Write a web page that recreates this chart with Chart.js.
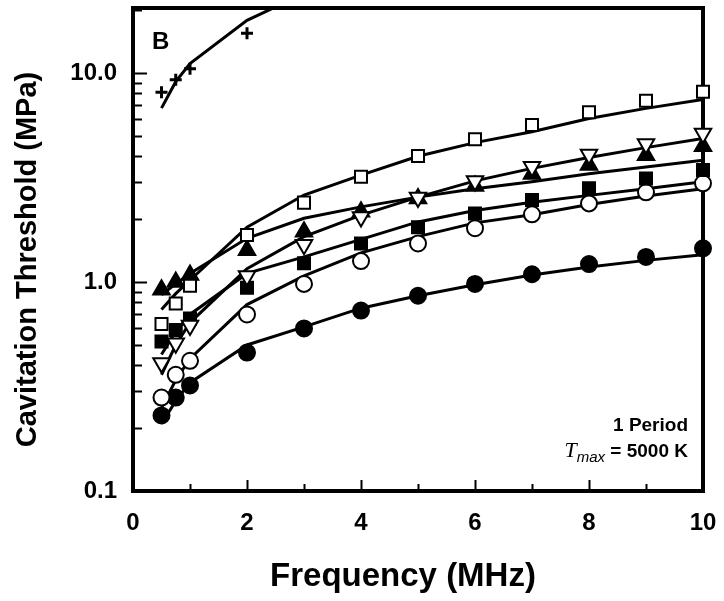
<!DOCTYPE html>
<html>
<head>
<meta charset="utf-8">
<script src="https://cdn.jsdelivr.net/npm/chart.js@4.4.1/dist/chart.umd.min.js"></script>
<style>
  html, body { margin: 0; padding: 0; background: #fff; }
</style>
</head>
<body>
<canvas id="chart" width="724" height="601"></canvas>
<script>
//Frequencies (MHz) used by every series
const freq = [0.5, 0.75, 1, 2, 3, 4, 5, 6, 7, 8, 9, 10];

//Crosses only go up to 2 MHz, fit runs off the top
const crossFreq = [0.5, 0.75, 1, 2];
const crossPts = [8.1, 9.3, 10.5, 15.5];
const crossFitFreq = [0.5, 0.75, 1, 2, 3];
const crossFit = [6.8, 9.1, 11.1, 17.9, 24];

//Threshold values (MPa), markers and fitted curves
const openSquare = [0.63, 0.79, 0.96, 1.68, 2.4, 3.19, 4.01, 4.82, 5.64, 6.49, 7.37, 8.14];
const openSquareFit = [0.74, 0.88, 1.02, 1.83, 2.61, 3.25, 4.0, 4.65, 5.24, 6.07, 6.78, 7.48];
const downTri = [0.41, 0.51, 0.62, 1.07, 1.51, 2.05, 2.54, 3.05, 3.56, 4.08, 4.58, 5.14];
const downTriFit = [0.36, 0.5, 0.64, 1.16, 1.65, 2.09, 2.55, 3.05, 3.5, 3.95, 4.4, 4.87];
const upTri = [0.92, 1.0, 1.08, 1.42, 1.74, 2.17, 2.51, 2.88, 3.29, 3.63, 4.05, 4.47];
const upTriFit = [0.87, 0.98, 1.1, 1.62, 2.02, 2.29, 2.55, 2.8, 3.02, 3.3, 3.55, 3.83];
const filledSquare = [0.52, 0.59, 0.67, 0.94, 1.23, 1.53, 1.83, 2.13, 2.47, 2.81, 3.13, 3.44];
const filledSquareFit = [0.45, 0.58, 0.7, 1.1, 1.32, 1.6, 1.94, 2.2, 2.41, 2.6, 2.8, 3.02];
const openCircle = [0.28, 0.36, 0.42, 0.70, 0.98, 1.26, 1.53, 1.81, 2.11, 2.38, 2.69, 2.97];
const openCircleFit = [0.25, 0.34, 0.43, 0.78, 1.07, 1.38, 1.65, 1.92, 2.1, 2.35, 2.58, 2.8];
const filledCircle = [0.23, 0.28, 0.32, 0.46, 0.60, 0.73, 0.86, 0.98, 1.09, 1.22, 1.32, 1.45];
const filledCircleFit = [0.21, 0.27, 0.33, 0.50, 0.61, 0.75, 0.86, 0.97, 1.08, 1.18, 1.27, 1.35];

//Axis ticks
const yLabels = [0.1, 1, 10];
const yMinor = [0.2, 0.3, 0.4, 0.5, 0.6, 0.7, 0.8, 0.9, 2, 3, 4, 5, 6, 7, 8, 9, 20];
const xLabels = [0, 2, 4, 6, 8, 10];
const xMinor = [1, 3, 5, 7, 9];

const FONT = "'Liberation Sans', Arial, sans-serif";

function pts(xs, ys){
    return xs.map((x, i) => ({x: x, y: ys[i]}));
}

//Marker dataset
function markers(ys, style, filled, r, extra){
    return Object.assign({
        data: pts(freq, ys),
        showLine: false,
        pointStyle: style,
        pointRadius: r,
        pointBorderWidth: 2,
        pointBorderColor: "#000000",
        pointBackgroundColor: filled ? "#000000" : "#ffffff",
        clip: false,
        order: 1,
    }, extra || {});
}

//Fitted curve dataset
function fitLine(xs, ys){
    return {
        data: pts(xs, ys),
        borderColor: "#000000",
        borderWidth: 3,
        pointRadius: 0,
        fill: false,
        tension: 0,
        order: 2,
    };
}

//No extra room for half tick labels, the frame is fixed by the padding
function noPad(s){
    s.paddingTop = 0;
    s.paddingBottom = 0;
    s.paddingLeft = 0;
    s.paddingRight = 0;
}

//Frame, inside ticks and the text around the plot
const frame = {
    id: "frame",
    beforeDatasetsDraw(chart){
        let ctx = chart.ctx, a = chart.chartArea,
            xs = chart.scales.x, ys = chart.scales.y;
        ctx.save();
        ctx.strokeStyle = "#000000";
        ctx.lineWidth = 2;
        ctx.beginPath();
        yLabels.concat(yMinor).forEach(v => {
            let py = Math.round(ys.getPixelForValue(v)) + 0.5,
                len = yLabels.includes(v) ? 14 : 9;
            if(py < a.top || py > a.bottom) return;
            ctx.moveTo(a.left, py);
            ctx.lineTo(a.left + len, py);
        });
        xLabels.concat(xMinor).forEach(v => {
            let px = Math.round(xs.getPixelForValue(v)) + 0.5,
                len = xLabels.includes(v) ? 11 : 7;
            ctx.moveTo(px, a.bottom);
            ctx.lineTo(px, a.bottom - len);
        });
        ctx.stroke();
        ctx.lineWidth = 4;
        ctx.strokeRect(a.left, a.top, a.right - a.left, a.bottom - a.top);
        ctx.restore();
    },
    afterDraw(chart){
        let ctx = chart.ctx, a = chart.chartArea,
            midX = (a.left + a.right) / 2,
            midY = (a.top + a.bottom) / 2;
        ctx.save();
        ctx.fillStyle = "#000000";

        //Axis titles, sitting a bit off centre as in the original
        ctx.textAlign = "center";
        ctx.textBaseline = "middle";
        ctx.font = "bold 33px " + FONT;
        ctx.fillText("Frequency (MHz)", midX - 15, a.bottom + 86);
        ctx.save();
        ctx.translate(28, midY + 10);
        ctx.rotate(-Math.PI / 2);
        ctx.font = "bold 29px " + FONT;
        ctx.fillText("Cavitation Threshold (MPa)", 0, 0);
        ctx.restore();

        ctx.textBaseline = "alphabetic";
        ctx.font = "bold 24px " + FONT;
        ctx.textAlign = "left";
        ctx.fillText("B", a.left + 19, a.top + 41);

        ctx.font = "bold 19px " + FONT;
        ctx.textAlign = "right";
        ctx.fillText("1 Period", a.right - 15, a.bottom - 60);

        //T_max = 5000 K, built right to left
        let base = a.bottom - 34,
            right = a.right - 15,
            rest = " = 5000 K";
        ctx.font = "bold 19px " + FONT;
        let wRest = ctx.measureText(rest).width;
        ctx.font = "italic 15px " + FONT;
        let wSub = ctx.measureText("max").width;
        ctx.font = "italic 22px 'Liberation Serif', 'Times New Roman', serif";
        let wT = ctx.measureText("T").width;
        let x0 = right - wRest - wSub - wT;
        ctx.textAlign = "left";
        ctx.fillText("T", x0, base);
        ctx.font = "italic 15px " + FONT;
        ctx.fillText("max", x0 + wT, base + 5);
        ctx.font = "bold 19px " + FONT;
        ctx.fillText(rest, x0 + wT + wSub, base);
        ctx.restore();
    },
};

new Chart(document.getElementById("chart"), {
    type: "line",
    data: {
        datasets: [
            fitLine(crossFitFreq, crossFit),
            fitLine(freq, openSquareFit),
            fitLine(freq, downTriFit),
            fitLine(freq, upTriFit),
            fitLine(freq, filledSquareFit),
            fitLine(freq, openCircleFit),
            fitLine(freq, filledCircleFit),
            {
                data: pts(crossFreq, crossPts),
                showLine: false,
                pointStyle: "cross",
                pointRadius: 6,
                pointBorderWidth: 3,
                pointBorderColor: "#000000",
                clip: false,
                order: 1,
            },
            markers(openSquare, "rect", false, 8.5),
            markers(downTri, "triangle", false, 9.5, {pointRotation: 180}),
            markers(upTri, "triangle", true, 9.5),
            markers(filledSquare, "rect", true, 8.5),
            markers(openCircle, "circle", false, 8),
            markers(filledCircle, "circle", true, 8),
        ],
    },
    options: {
        responsive: false,
        animation: false,
        devicePixelRatio: 1,
        layout: {
            autoPadding: false,
            padding: {top: 8, right: 21, left: 0, bottom: 0},
        },
        plugins: {
            legend: {display: false},
            tooltip: {enabled: false},
        },
        scales: {
            x: {
                type: "linear",
                min: 0,
                max: 10,
                grid: {display: false, drawTicks: false},
                border: {display: false},
                afterBuildTicks: s => { s.ticks = xLabels.map(v => ({value: v})); },
                ticks: {
                    padding: 18,
                    color: "#000000",
                    font: {family: FONT, size: 24, weight: "bold"},
                    maxRotation: 0,
                },
                afterFit: s => { s.height = 110; noPad(s); },
            },
            y: {
                type: "logarithmic",
                min: 0.1,
                max: 20.5,
                grid: {display: false, drawTicks: false},
                border: {display: false},
                afterBuildTicks: s => { s.ticks = yLabels.map(v => ({value: v})); },
                ticks: {
                    padding: 16,
                    color: "#000000",
                    font: {family: FONT, size: 24, weight: "bold"},
                    callback: v => Number(v).toFixed(1),
                },
                afterFit: s => { s.width = 133; noPad(s); },
            },
        },
    },
    plugins: [frame],
});
</script>
</body>
</html>
